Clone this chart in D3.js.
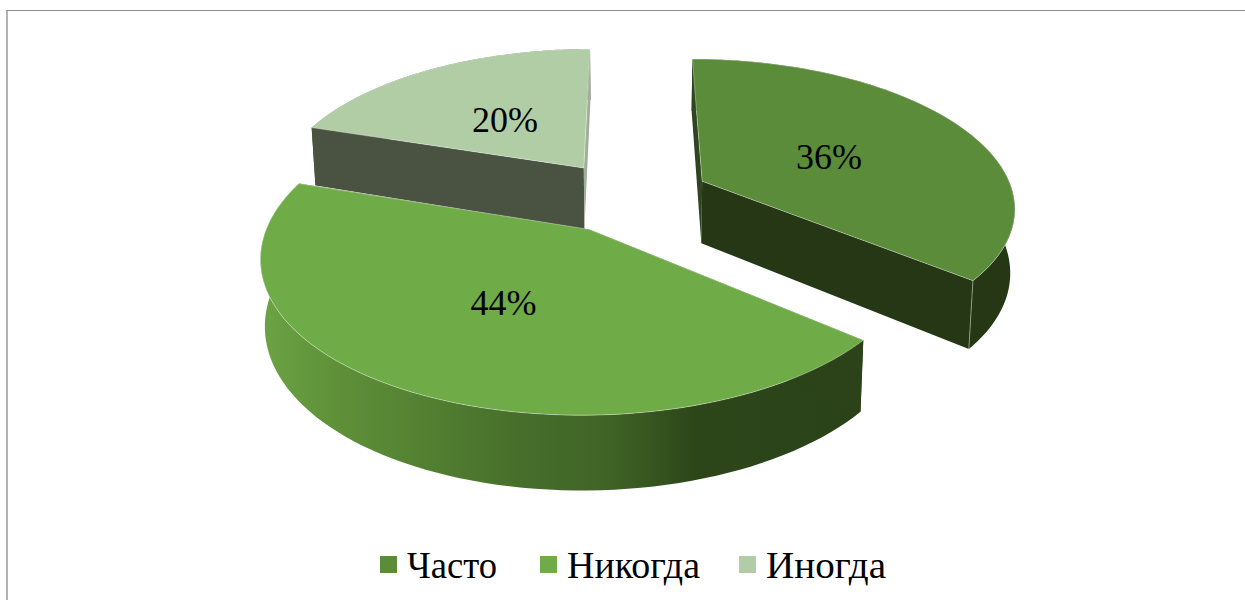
<!DOCTYPE html>
<html>
<head>
<meta charset="utf-8">
<script src="https://cdn.jsdelivr.net/npm/d3@7/dist/d3.min.js"></script>
<style>
html,body{margin:0;padding:0;background:#fff;overflow:hidden}
svg{display:block}
text{font-family:"Liberation Serif","Times New Roman",serif;fill:#000}
</style>
</head>
<body>
<svg id="chart" width="1245" height="600"></svg>
<script>
const categories = ["Часто", "Никогда", "Иногда"];
const values = [36, 44, 20];
const labels = ["36%", "44%", "20%"];
const topColors = ["#5b8c3a", "#6fac48", "#b1cda5"];
const sideColors = ["#263716", "#2c431a", "#4a5241"];
const sliverColors = ["#2f4520", "#2c431a", "#a3ad9b"];

const svg = d3.select("#chart");

// camera
const cx = 630, cy = 196.5, R = 312, Rk = 145.5;
const tx = 0.16, ty = 0.155, depth = 63, depthTilt = 0.16, zShrink = 0.012, explodeX = 0.26, explodeY = 0.25;

function project(X, Y, Z) {
  const px = 1 / (1 + tx * Y), py = 1 / (1 + ty * Y);
  return [
    cx + R * X * px * (1 - zShrink * Z),
    cy - Rk * Y * py + depth * (1 - depthTilt * Y) * Z
  ];
}

const pie = d3.pie().sort(null).value(d => d).startAngle(0).endAngle(2 * Math.PI);
const arcs = pie(values);
const line = d3.line();

function sliceGeom(arc) {
  const mid = (arc.startAngle + arc.endAngle) / 2;
  const ox = explodeX * Math.sin(mid), oy = explodeY * Math.cos(mid);
  const at = (angle, f, Z) =>
    project(ox + f * Math.sin(angle), oy + f * Math.cos(angle), Z);
  const n = 80;
  const angles = d3.range(n + 1).map(i => arc.startAngle + (arc.endAngle - arc.startAngle) * i / n);
  return { mid, at, angles };
}

const defs = svg.append("defs");
const grad = defs.append("linearGradient")
  .attr("id", "rim").attr("gradientUnits", "userSpaceOnUse")
  .attr("x1", 262).attr("x2", 864).attr("y1", 0).attr("y2", 0);
[[0, "#6ba344"], [0.12, "#5f9139"], [0.28, "#527f31"], [0.42, "#476f2b"], [0.58, "#3f6326"], [0.72, "#2d4619"], [1, "#2b4219"]]
  .forEach(s => grad.append("stop").attr("offset", s[0]).attr("stop-color", s[1]));

// frame
svg.append("line").attr("x1", 7).attr("x2", 7).attr("y1", 10).attr("y2", 600)
  .attr("stroke", "#b3b3b3").attr("stroke-width", 2);
svg.append("line").attr("x1", 6).attr("x2", 1245).attr("y1", 10.5).attr("y2", 10.5)
  .attr("stroke", "#8f8f8f").attr("stroke-width", 1.2);

// back to front: Иногда, Часто, Никогда
[2, 0, 1].forEach(i => {
  const arc = arcs[i];
  const g = sliceGeom(arc);
  const group = svg.append("g");
  const sideFill = i === 1 ? "url(#rim)" : sideColors[i];

  // outer rim
  const topArc = g.angles.map(a => g.at(a, 1, 0));
  const botArc = g.angles.map(a => g.at(a, 1, 1)).reverse();
  group.append("path").attr("d", line(topArc.concat(botArc)) + "Z").attr("fill", sideFill);

  // inner radial faces
  [arc.startAngle, arc.endAngle].forEach(a => {
    const face = [g.at(a, 0, 0), g.at(a, 1, 0), g.at(a, 1, 1), g.at(a, 0, 1)];
    const isSliver = (i === 0 && a === arc.startAngle) || (i === 2 && a === arc.endAngle);
    group.append("path").attr("d", line(face) + "Z")
      .attr("fill", isSliver ? sliverColors[i] : sideColors[i]);
  });

  // corner highlight on Часто
  if (i === 0) {
    group.append("path").attr("d", line([g.at(arc.endAngle, 1, 0), g.at(arc.endAngle, 1, 1)]))
      .attr("stroke", "#9aa58f").attr("stroke-width", 0.8).attr("fill", "none");
  }

  // top face
  const topFace = [g.at(arc.startAngle, 0, 0)].concat(topArc);
  group.append("path").attr("d", line(topFace) + "Z")
    .attr("fill", topColors[i])
    .attr("stroke", "#ffffff").attr("stroke-opacity", 0.45).attr("stroke-width", 0.8);
});

// value labels
const labelShift = [[0, 4], [-2.5, 3], [-1, 2]];
arcs.forEach((arc, i) => {
  const g = sliceGeom(arc);
  const p = g.at(g.mid, 0.48, 0);
  svg.append("text").attr("x", p[0] + labelShift[i][0]).attr("y", p[1] + labelShift[i][1]).attr("dy", "0.33em")
    .attr("text-anchor", "middle").attr("font-size", 36).text(labels[i]);
});

// legend
const legendX = d3.scaleOrdinal().domain(categories).range([380, 540, 739]);
const legendWidths = [90, 133, 120];
categories.forEach((c, i) => {
  const lx = legendX(c);
  svg.append("rect").attr("x", lx).attr("y", 556).attr("width", 17).attr("height", 17).attr("fill", topColors[i]);
  svg.append("text").attr("x", lx + 27).attr("y", 578).attr("font-size", 37)
    .attr("textLength", legendWidths[i]).attr("lengthAdjust", "spacingAndGlyphs").text(c);
});
</script>
</body>
</html>
